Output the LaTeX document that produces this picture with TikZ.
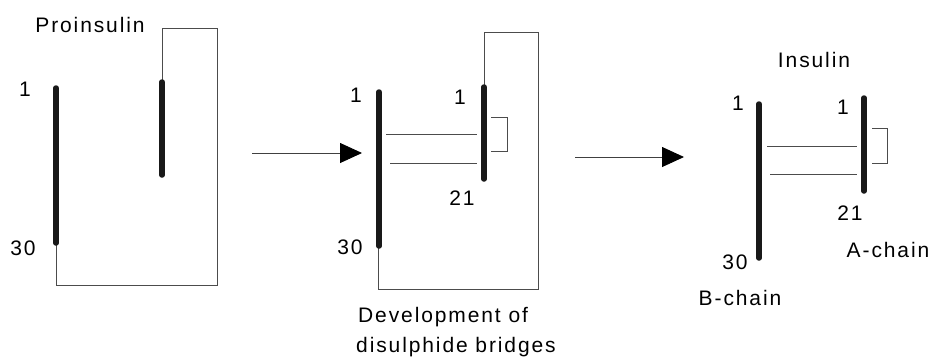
\documentclass[tikz,border=0pt]{standalone}
\usepackage{fontspec}
\setmainfont[LetterSpace=9]{Liberation Sans}
\usetikzlibrary{arrows.meta}
\begin{document}
\begin{tikzpicture}[x=1pt,y=-1pt,
  chain/.style={line width=5.5pt,line cap=round,black!90},
  thin/.style={line width=0.8pt,black!70},
  bridge/.style={line width=0.8pt,black!70},
  lbl/.style={inner sep=0pt,font=\fontsize{21}{24}\selectfont},
  flow/.style={line width=0.9pt,black!75,-{Triangle[length=22pt,width=20pt,fill=black,color=black]}}]
\useasboundingbox (0,0) rectangle (933,360);
% ---------- Panel 1: Proinsulin
\coordinate (b1t) at (56,88);
\coordinate (b1b) at (56,243);
\coordinate (a1t) at (162,82);
\coordinate (a1b) at (162,175);
\draw[thin] (a1t) -- (162,28) -- (217,28) -- (217,285) -- (56,285) -- (b1b);
\draw[chain] (b1t) -- (b1b);
\draw[chain] (a1t) -- (a1b);
\node[lbl] (tpro) at (90,25) {Proinsulin};
\node[lbl] (l1a) at (25,89) {1};
\node[lbl] (l1b) at (23,248) {30};
% ---------- arrow 1
\coordinate (ar1s) at (252,153);
\coordinate (ar1e) at (362,153);
\draw[flow] (ar1s) -- (ar1e);
% ---------- Panel 2
\coordinate (b2t) at (379,92);
\coordinate (b2b) at (379,246);
\coordinate (a2t) at (484,87);
\coordinate (a2b) at (484,179);
\draw[thin] (a2t) -- (484,32) -- (538,32) -- (538,289) -- (378,289) -- (378,246);
\draw[chain] (b2t) -- (b2b);
\draw[chain] (a2t) -- (a2b);
\draw[bridge] (386,134) -- (477,134);
\draw[bridge] (390,163) -- (477,163);
\draw[bridge] (491,117) -- (507,117) -- (507,151) -- (491,151);
\node[lbl] (l2a) at (356,95) {1};
\node[lbl] (l2b) at (350,247) {30};
\node[lbl] (l2c) at (460,97) {1};
\node[lbl] (l2d) at (462,198) {21};
\node[lbl,anchor=west] (tdev1) at (358,317) {Development of};
\node[lbl,anchor=west] (tdev2) at (356,347) {disulphide bridges};
% ---------- arrow 2
\coordinate (ar2s) at (575,157);
\coordinate (ar2e) at (684,157);
\draw[flow] (ar2s) -- (ar2e);
% ---------- Panel 3: Insulin
\coordinate (b3t) at (759,104);
\coordinate (b3b) at (759,258);
\coordinate (a3t) at (864,98);
\coordinate (a3b) at (864,191);
\draw[chain] (b3t) -- (b3b);
\draw[chain] (a3t) -- (a3b);
\draw[bridge] (767,146) -- (857,146);
\draw[bridge] (770,174) -- (857,174);
\draw[bridge] (872,128) -- (887,128) -- (887,163) -- (872,163);
\node[lbl] (tins) at (814,60) {Insulin};
\node[lbl] (l3a) at (738,103) {1};
\node[lbl] (l3b) at (735,262) {30};
\node[lbl] (l3c) at (843,107) {1};
\node[lbl] (l3d) at (850,213) {21};
\node[lbl] (tA) at (888,250) {A-chain};
\node[lbl] (tB) at (740,298) {B-chain};
\end{tikzpicture}
\end{document}
